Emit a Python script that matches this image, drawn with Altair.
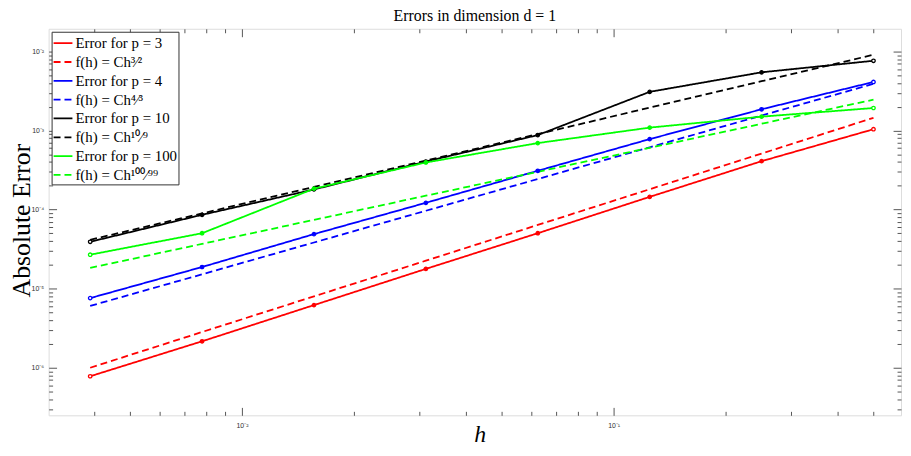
import altair as alt
import pandas as pd

# ---------------- data ----------------
h = [1/256, 1/128, 1/64, 1/32, 1/16, 1/8, 1/4, 1/2]

err_p3 = [7.8e-7, 2.16e-6, 6.2e-6, 1.78e-5, 5.03e-5, 1.45e-4, 4.1e-4, 1.04e-3]
fit_p3 = [1.0e-6, 2.83e-6, 8.0e-6, 2.26e-5, 6.4e-5, 1.81e-4, 5.12e-4, 1.45e-3]
err_p4 = [7.6e-6, 1.88e-5, 4.9e-5, 1.22e-4, 3.1e-4, 7.8e-4, 1.86e-3, 4.12e-3]
fit_p4 = [6.05e-6, 1.52e-5, 3.84e-5, 9.68e-5, 2.44e-4, 6.15e-4, 1.55e-3, 3.9e-3]
err_p10 = [3.92e-5, 8.6e-5, 1.8e-4, 4.06e-4, 8.77e-4, 3.09e-3, 5.46e-3, 7.64e-3]
fit_p10 = [4.15e-5, 8.96e-5, 1.94e-4, 4.18e-4, 9.03e-4, 1.95e-3, 4.21e-3, 9.1e-3]
err_p100 = [2.69e-5, 5.03e-5, 1.84e-4, 3.95e-4, 6.95e-4, 1.09e-3, 1.5e-3, 1.93e-3]
fit_p100 = [1.83e-5, 3.69e-5, 7.42e-5, 1.5e-4, 3.01e-4, 6.06e-4, 1.22e-3, 2.46e-3]

labels = [
    "Error for p = 3", "f(h) = Ch³⁄²",
    "Error for p = 4", "f(h) = Ch⁴⁄³",
    "Error for p = 10", "f(h) = Ch¹⁰⁄⁹",
    "Error for p = 100", "f(h) = Ch¹⁰⁰⁄⁹⁹",
]
kinds = ["error", "fit"] * 4
colors = ["#ff0000", "#ff0000", "#0000ff", "#0000ff",
          "#000000", "#000000", "#00ff00", "#00ff00"]
dashes = [[1, 0], [7, 4]] * 4
values = [err_p3, fit_p3, err_p4, fit_p4, err_p10, fit_p10, err_p100, fit_p100]

x_major = [0.01, 0.1]
x_minor = [0.004, 0.005, 0.006, 0.007, 0.008, 0.009,
           0.02, 0.03, 0.04, 0.05, 0.06, 0.07, 0.08, 0.09,
           0.2, 0.3, 0.4, 0.5]
y_major = [1e-6, 1e-5, 1e-4, 1e-3, 1e-2]
y_minor = [m * 10.0 ** e for e in range(-7, -1) for m in range(2, 10)
           if 2.5e-7 <= m * 10.0 ** e <= 1.94e-2]

# ---------------- table ----------------
rows = []
for lab, kind, col, vals in zip(labels, kinds, colors, values):
    n = len(vals)
    for i, (hh, v) in enumerate(zip(h, vals)):
        rows.append(dict(h=hh, err=v, series=lab, kind=kind, hex=col,
                         fillhex="#ffffff" if i in (0, n - 1) else col))
df = pd.DataFrame(rows)

SUP = str.maketrans("-0123456789", "⁻⁰¹²³⁴⁵⁶⁷⁸⁹")


def label_expr(exps):
    expr = "''"
    for e in reversed(exps):
        expr = (f"abs(log(datum.value)/LN10 - ({e})) < 0.01 ? "
                f"'10{str(e).translate(SUP)}' : " + expr)
    return expr


FONT = "Liberation Serif"
xs = alt.Scale(type="log", domain=[0.00302, 0.593], nice=False)
ys = alt.Scale(type="log", domain=[2.5e-7, 1.94e-2], nice=False)

legend = alt.Legend(orient="top-left", offset=3, title=None, symbolType="stroke",
                    symbolSize=361, symbolStrokeWidth=1.8, labelFont=FONT,
                    labelFontSize=15, labelColor="black", strokeColor="#333",
                    fillColor="white", padding=1, rowPadding=-3.5, labelOffset=2,
                    symbolLimit=20)

base = alt.Chart(df)

lines = base.mark_line(strokeWidth=1.8).encode(
    x=alt.X("h:Q", scale=xs, axis=alt.Axis(
        orient="bottom", values=x_major, offset=-8, tickSize=8, domain=False,
        grid=False, labelExpr=label_expr([-2, -1]), labelFontSize=7,
        labelColor="#333", labelPadding=6, tickColor="#555",
        title="h", titleFont=FONT, titleFontSize=24, titleFontStyle="italic",
        titleFontWeight="normal", titleX=435, titleY=39,
        titleBaseline="bottom")),
    y=alt.Y("err:Q", scale=ys, axis=alt.Axis(
        orient="left", values=y_major, offset=-8, tickSize=8, domain=False,
        grid=False, labelExpr=label_expr([-6, -5, -4, -3, -2]), labelFontSize=7,
        labelColor="#333", labelPadding=5, tickColor="#555",
        title="Absolute Error", titleFont=FONT, titleFontSize=26,
        titleFontWeight="normal", titleX=-27, titleY=193, titleAngle=-90,
        titleAlign="center", titleBaseline="alphabetic")),
    color=alt.Color("series:N", sort=labels,
                    scale=alt.Scale(domain=labels, range=colors), legend=legend),
    strokeDash=alt.StrokeDash("series:N", sort=labels,
                              scale=alt.Scale(domain=labels, range=dashes),
                              legend=legend),
    detail="series:N",
)

points = base.transform_filter(alt.datum.kind == "error").mark_point(
    size=12, strokeWidth=1.3, opacity=1, fillOpacity=1).encode(
    x=alt.X("h:Q", scale=xs, axis=alt.Axis(
        orient="bottom", values=x_minor, offset=-4, tickSize=4, domain=False,
        grid=False, labels=False, title=None, tickColor="#555")),
    y=alt.Y("err:Q", scale=ys, axis=alt.Axis(
        orient="left", values=y_minor, offset=-4, tickSize=4, domain=False,
        grid=False, labels=False, title=None, tickColor="#555")),
    stroke=alt.Stroke("hex:N", scale=None),
    fill=alt.Fill("fillhex:N", scale=None),
)

top_major = base.mark_point(opacity=0).encode(
    x=alt.X("h:Q", scale=xs, axis=alt.Axis(
        orient="top", values=x_major, offset=-8, tickSize=8, domain=False,
        grid=False, labels=False, title=None, tickColor="#555")),
    y=alt.Y("err:Q", scale=ys, axis=alt.Axis(
        orient="right", values=y_major, offset=-8, tickSize=8, domain=False,
        grid=False, labels=False, title=None, tickColor="#555")),
)

top_minor = base.mark_point(opacity=0).encode(
    x=alt.X("h:Q", scale=xs, axis=alt.Axis(
        orient="top", values=x_minor, offset=-4, tickSize=4, domain=False,
        grid=False, labels=False, title=None, tickColor="#555")),
    y=alt.Y("err:Q", scale=ys, axis=alt.Axis(
        orient="right", values=y_minor, offset=-4, tickSize=4, domain=False,
        grid=False, labels=False, title=None, tickColor="#555")),
)

chart = alt.layer(lines, points, top_major, top_minor).resolve_axis(
    x="independent", y="independent"
).properties(
    width=860, height=390,
    autosize=alt.AutoSizeParams(type="none"),
    padding={"left": 41, "top": 19, "right": 2, "bottom": 31},
    title=alt.TitleParams("Errors in dimension d = 1", font=FONT, fontSize=16,
                          fontWeight="normal", anchor="middle", offset=4,
                          color="black"),
).configure_view(stroke="#666", strokeWidth=1.2).configure(background="white")

chart.save("out.html", embed_options={"renderer": "svg", "actions": False})
